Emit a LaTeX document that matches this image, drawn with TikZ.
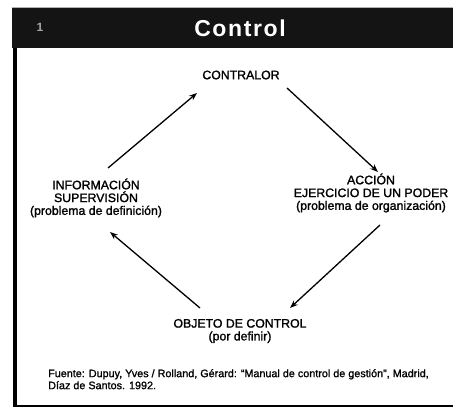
\documentclass[tikz,border=0pt]{standalone}
\usepackage{fontspec}
\setmainfont{Liberation Sans}
\usetikzlibrary{arrows.meta,calc}
\begin{document}
\begin{tikzpicture}[x=1pt,y=-1pt,
  lbl/.style={inner sep=0pt,align=center,font=\fontsize{12.3}{12.8}\selectfont\addfontfeature{FakeBold=1.5}},
  arr/.style={line width=1.3pt,-{Stealth[length=8pt,width=6pt]}}]
\useasboundingbox (0,0) rectangle (453,412);
% frame
\fill[black!92] (12,7) rectangle (453,48);
\draw[gray!60,line width=0.6pt] (12,7) -- (453,7);
\draw[line width=4pt] (15,48) -- (15,406);
\draw[line width=2.5pt] (13,406) -- (453,406);
\node[inner sep=0pt,text=white,font=\bfseries\fontsize{23}{23}\selectfont\addfontfeature{LetterSpace=7}] (title) at (240,28) {Control};
\node[inner sep=0pt,text=gray!70,font=\bfseries\fontsize{12}{12}\selectfont] (num) at (40,27) {1};
% nodes
\node[lbl] (contralor) at (241,75) {CONTRALOR};
\node[lbl] (accion) at (371,193) {ACCIÓN\\EJERCICIO DE UN PODER\\(problema de organización)};
\node[lbl] (objeto) at (240,331) {OBJETO DE CONTROL\\(por definir)};
\node[lbl] (info) at (96,198) {INFORMACIÓN\\SUPERVISIÓN\\(problema de definición)};
\node[inner sep=0pt,anchor=north west,align=left,font=\fontsize{10.8}{12}\selectfont\addfontfeature{FakeBold=1.2}] (fuente) at (48,369)
  {Fuente: Dupuy, Yves / Rolland, Gérard: “Manual de control de gestión”, Madrid,\\Díaz de Santos. 1992.};
% connectors
\draw[arr] ($(info)+(12,-30)$) -- ($(contralor)+(-44,18)$);
\draw[arr] ($(contralor)+(46,13)$) -- ($(accion)+(7,-21)$);
\draw[arr] ($(accion)+(9,32)$) -- ($(objeto)+(50,-23)$);
\draw[arr] ($(objeto)+(-40,-23)$) -- ($(info)+(14,34)$);
\end{tikzpicture}
\end{document}
